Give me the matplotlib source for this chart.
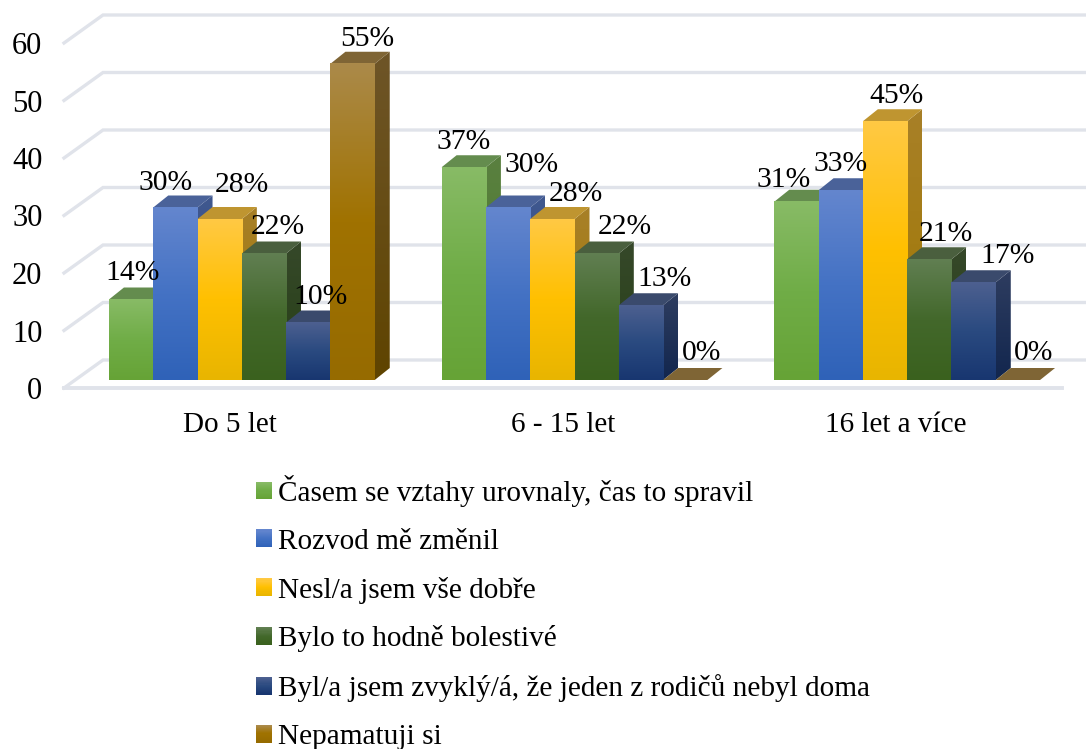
import numpy as np
import matplotlib
matplotlib.use("Agg")
import matplotlib.pyplot as plt
from matplotlib.colors import LinearSegmentedColormap
from matplotlib.legend_handler import HandlerBase
from matplotlib.patches import Patch, Polygon, Rectangle

plt.rcParams['font.family'] = ['Liberation Serif', 'DejaVu Serif']

categories = ['Do 5 let', '6 - 15 let', '16 let a více']
series_names = ['Časem se vztahy urovnaly, čas to spravil',
                'Rozvod mě změnil',
                'Nesl/a jsem vše dobře',
                'Bylo to hodně bolestivé',
                'Byl/a jsem zvyklý/á, že jeden z rodičů nebyl doma',
                'Nepamatuji si']
casem = [14, 37, 31]
rozvod = [30, 30, 33]
nesl = [28, 28, 45]
bolestive = [22, 22, 21]
zvykly = [10, 13, 17]
nepamatuji = [55, 0, 0]
values = [casem, rozvod, nesl, bolestive, zvykly, nepamatuji]
yticks = [0, 10, 20, 30, 40, 50, 60]

# gradient stops top -> bottom, plus the top face and side colours
front_cols = [['#88BB66', '#70AD47', '#66A336'],
              ['#6486CE', '#4472C4', '#2F62B8'],
              ['#FFC944', '#FFC000', '#E8B500'],
              ['#617F52', '#43682B', '#3A611E'],
              ['#4D6090', '#2A4A80', '#183670'],
              ['#AB8A4A', '#A07200', '#966B00']]
top_cols = ['#648C4E', '#4A6299', '#BF9530', '#4A5F3E', '#3A4A6C', '#7F6535']
side_cols = [['#5A8040', '#4A7A28'],
             ['#40588F', '#2A4A8A'],
             ['#A88028', '#A07800'],
             ['#36482A', '#264015'],
             ['#2E3D60', '#12264E'],
             ['#6E5528', '#5F4400']]
grid_col = '#E0E3EA'

# little pixel shifts of the data labels, they sit by hand in the original
label_dx = [[1, -10, 22, 14, 12, 15], [0, 24, 24, 28, 24, 16], [-13, 0, 11, 17, 34, 16]]
label_dy = [[26, 25, 34, 26, 26, 25], [25, 42, 25, 26, 26, 27], [22, 26, 25, 25, 26, 27]]

W, H = 1086, 749
fig = plt.figure(figsize=(W / 100, H / 100), dpi=100)
left, right, bottom, top = 64, 1062, 388, 43
ax = fig.add_axes([left / W, 1 - bottom / H, (right - left) / W, (bottom - top) / H])
ax.set_xlim(-0.5, 2.5)
ax.set_ylim(0, 60)
for s in ax.spines.values():
    s.set_visible(False)
ax.patch.set_visible(False)
ax.set_xticks(range(3), categories)
ax.set_yticks(yticks)
ax.tick_params(axis='x', length=0, pad=17, labelsize=21, colors='black')
ax.tick_params(axis='y', length=0, pad=15.5, labelsize=22, colors='black')

px_x = (right - left) / 3
px_y = (bottom - top) / 60

# walls and floor
wall_dx, wall_dy = 39 / px_x, 28 / px_y
for v in yticks:
    ax.plot([-0.5, -0.5 + wall_dx, 2.5 + wall_dx], [v, v + wall_dy, v + wall_dy],
            color=grid_col, lw=2.4, clip_on=False, zorder=1, solid_joinstyle='miter')
ax.plot([-0.5, 2.5], [0, 0], color=grid_col, lw=2.8, clip_on=False, zorder=1)

bar_w = 44.3 / px_x
shift_x = 11.5 / px_x
floor_y = 8 / px_y
dep_x, dep_y = 15 / px_x, 12 / px_y
grad = np.linspace(0, 1, 256).reshape(-1, 1)

for i in range(3):
    for j in range(6):
        v = values[j][i]
        x0 = i + shift_x + (j - 3) * bar_w
        x1 = x0 + bar_w
        y0 = floor_y
        y1 = floor_y + v
        z = 3 + j
        if v > 0:
            cmap_f = LinearSegmentedColormap.from_list('f', front_cols[j])
            cmap_s = LinearSegmentedColormap.from_list('s', side_cols[j])
            side = Polygon([(x1, y0), (x1 + dep_x, y0 + dep_y), (x1 + dep_x, y1 + dep_y), (x1, y1)],
                           closed=True, fc='none', ec='none', transform=ax.transData)
            ax.add_patch(side)
            im = ax.imshow(grad, cmap=cmap_s, extent=(x1, x1 + dep_x, y0, y1 + dep_y),
                           aspect='auto', origin='upper', zorder=z, clip_on=True)
            im.set_clip_path(side)
            ax.imshow(grad, cmap=cmap_f, extent=(x0, x1, y0, y1), aspect='auto',
                      origin='upper', zorder=z + 0.2, clip_on=False)
        ax.add_patch(Polygon([(x0, y1), (x0 + dep_x, y1 + dep_y), (x1 + dep_x, y1 + dep_y), (x1, y1)],
                             closed=True, fc=top_cols[j], ec='none', zorder=z + 0.1, clip_on=False))

for i in range(3):
    for j in range(6):
        v = values[j][i]
        xc = i + shift_x + (j - 2.5) * bar_w
        ax.annotate(f'{v}%', xy=(xc, floor_y + v), xytext=(label_dx[i][j], label_dy[i][j]),
                    textcoords='offset pixels', ha='center', va='center', fontsize=21.3,
                    color='black', zorder=20, annotation_clip=False)

ax.set_xlim(-0.5, 2.5)
ax.set_ylim(0, 60)


class GradientSwatch(HandlerBase):
    def create_artists(self, legend, orig_handle, xd, yd, width, height, fontsize, trans):
        cmap = LinearSegmentedColormap.from_list('h', orig_handle.stops)
        n = 16
        out = []
        for k in range(n):
            out.append(Rectangle((-xd, -yd + height * (n - k - 1) / n), width, height / n + 0.2,
                                 fc=cmap(k / (n - 1)), ec='none', transform=trans))
        return out


handles = []
for j in range(6):
    h = Patch()
    h.stops = front_cols[j]
    handles.append(h)

leg = fig.legend(handles, series_names, loc='upper left', bbox_to_anchor=(256 / W, 1 - 475 / H),
                 frameon=False, fontsize=21.1, borderpad=0, borderaxespad=0, handlelength=0.55,
                 handleheight=0.55, handletextpad=0.2, labelspacing=0.745,
                 handler_map={Patch: GradientSwatch()})

fig.savefig('out.png', dpi=100)
